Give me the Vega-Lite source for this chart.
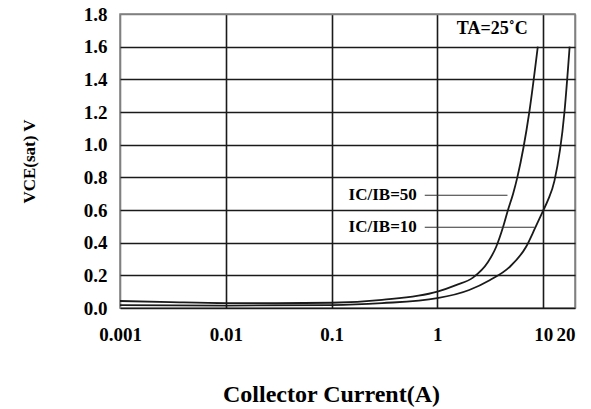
{
  "$schema": "https://vega.github.io/schema/vega-lite/v6.json",
  "width": 455,
  "height": 294,
  "autosize": {"type": "none"},
  "padding": {"left": 120, "top": 14, "right": 16, "bottom": 101},
  "background": "white",
  "config": {
    "font": "Liberation Serif",
    "view": {"stroke": "#808080", "strokeWidth": 1.5}
  },
  "datasets": {
    "curves": [
      {"series": "50", "ic": 0.001, "v": 0.043},
      {"series": "50", "ic": 0.003, "v": 0.036},
      {"series": "50", "ic": 0.01, "v": 0.03},
      {"series": "50", "ic": 0.03, "v": 0.029},
      {"series": "50", "ic": 0.1, "v": 0.032},
      {"series": "50", "ic": 0.3, "v": 0.05},
      {"series": "50", "ic": 1, "v": 0.1},
      {"series": "50", "ic": 1.5, "v": 0.14},
      {"series": "50", "ic": 2.17, "v": 0.186},
      {"series": "50", "ic": 3, "v": 0.28},
      {"series": "50", "ic": 3.6, "v": 0.375},
      {"series": "50", "ic": 4.2, "v": 0.5},
      {"series": "50", "ic": 4.65, "v": 0.6},
      {"series": "50", "ic": 5.2, "v": 0.7},
      {"series": "50", "ic": 5.7, "v": 0.8},
      {"series": "50", "ic": 7.4, "v": 1.2},
      {"series": "50", "ic": 8.9, "v": 1.6},
      {"series": "10", "ic": 0.001, "v": 0.017},
      {"series": "10", "ic": 0.01, "v": 0.015},
      {"series": "10", "ic": 0.1, "v": 0.018},
      {"series": "10", "ic": 0.3, "v": 0.03},
      {"series": "10", "ic": 1, "v": 0.06},
      {"series": "10", "ic": 2, "v": 0.11},
      {"series": "10", "ic": 3.12, "v": 0.17},
      {"series": "10", "ic": 4.8, "v": 0.25},
      {"series": "10", "ic": 6.9, "v": 0.375},
      {"series": "10", "ic": 8.4, "v": 0.49},
      {"series": "10", "ic": 9.9, "v": 0.59},
      {"series": "10", "ic": 11.1, "v": 0.66},
      {"series": "10", "ic": 12.8, "v": 0.78},
      {"series": "10", "ic": 15.9, "v": 1.2},
      {"series": "10", "ic": 17.8, "v": 1.6}
    ],
    "leaders": [
      {"x1": 0.76, "x2": 4.6, "y": 0.69},
      {"x1": 0.76, "x2": 8.3, "y": 0.494}
    ],
    "labels": [
      {"x": 0.64, "y": 0.69, "label": "IC/IB=50"},
      {"x": 0.64, "y": 0.494, "label": "IC/IB=10"}
    ],
    "temp": [
      {"x": 3.3, "y": 1.71, "label": "TA=25˚C"}
    ]
  },
  "layer": [
    {
      "data": {"name": "curves"},
      "mark": {"type": "line", "interpolate": "monotone", "strokeWidth": 1.8, "clip": true},
      "encoding": {
        "x": {
          "field": "ic",
          "type": "quantitative",
          "scale": {"type": "log", "domain": [0.001, 20], "nice": false},
          "axis": {
            "values": [0.001, 0.01, 0.1, 1, 10, 20],
            "tickCount": 20,
            "labelExpr": "datum.value == 0.001 ? '0.001' : datum.value == 0.01 ? '0.01' : datum.value == 0.1 ? '0.1' : format(datum.value, 'd')",
            "labelFont": "Liberation Serif",
            "labelFontWeight": "bold",
            "labelFontSize": 19,
            "labelColor": "black",
            "labelBaseline": "alphabetic",
            "labelPadding": 32,
            "labelAlign": {"condition": {"test": "datum.value == 20", "value": "right"}, "value": "center"},
            "labelOverlap": false,
            "labelFlush": false,
            "ticks": false,
            "tickSize": 0,
            "domain": false,
            "grid": true,
            "gridColor": {"condition": {"test": "datum.value <= 0.001 || datum.value >= 20", "value": "#808080"}, "value": "#1a1a1a"},
            "gridWidth": 1.6,
            "gridOpacity": 1,
            "title": "Collector Current(A)",
            "titleFont": "Liberation Serif",
            "titleFontWeight": "bold",
            "titleFontSize": 24,
            "titleColor": "black",
            "titleX": 211,
            "titleY": 93,
            "titleAlign": "center",
            "titleBaseline": "alphabetic"
          }
        },
        "y": {
          "field": "v",
          "type": "quantitative",
          "scale": {"domain": [0, 1.8], "nice": false, "zero": true},
          "axis": {
            "values": [0, 0.2, 0.4, 0.6, 0.8, 1.0, 1.2, 1.4, 1.6, 1.8],
            "tickCount": 20,
            "format": ".1f",
            "labelFont": "Liberation Serif",
            "labelFontWeight": "bold",
            "labelFontSize": 19,
            "labelColor": "black",
            "labelPadding": 13,
            "labelOverlap": false,
            "labelFlush": false,
            "ticks": false,
            "tickSize": 0,
            "domain": false,
            "grid": true,
            "gridColor": {"condition": {"test": "datum.value >= 1.8", "value": "#808080"}, "value": "#1a1a1a"},
            "gridWidth": 1.6,
            "gridOpacity": 1,
            "title": "VCE(sat) V",
            "titleFont": "Liberation Serif",
            "titleFontWeight": "bold",
            "titleFontSize": 17,
            "titleColor": "black",
            "titleX": -86,
            "titleY": 147,
            "titleAlign": "center",
            "titleBaseline": "alphabetic",
            "titleAngle": -90
          }
        },
        "detail": {"field": "series", "type": "nominal"},
        "color": {"value": "#1a1a1a"}
      }
    },
    {
      "data": {"name": "leaders"},
      "mark": {"type": "rule", "strokeWidth": 1.1, "color": "#333"},
      "encoding": {
        "x": {"field": "x1", "type": "quantitative"},
        "x2": {"field": "x2"},
        "y": {"field": "y", "type": "quantitative"}
      }
    },
    {
      "data": {"name": "labels"},
      "mark": {"type": "text", "align": "right", "baseline": "middle", "font": "Liberation Serif", "fontWeight": "bold", "fontSize": 17, "color": "black"},
      "encoding": {
        "x": {"field": "x", "type": "quantitative"},
        "y": {"field": "y", "type": "quantitative"},
        "text": {"field": "label"}
      }
    },
    {
      "data": {"name": "temp"},
      "mark": {"type": "text", "align": "center", "baseline": "middle", "font": "Liberation Serif", "fontWeight": "bold", "fontSize": 18, "color": "black"},
      "encoding": {
        "x": {"field": "x", "type": "quantitative"},
        "y": {"field": "y", "type": "quantitative"},
        "text": {"field": "label"}
      }
    }
  ]
}
